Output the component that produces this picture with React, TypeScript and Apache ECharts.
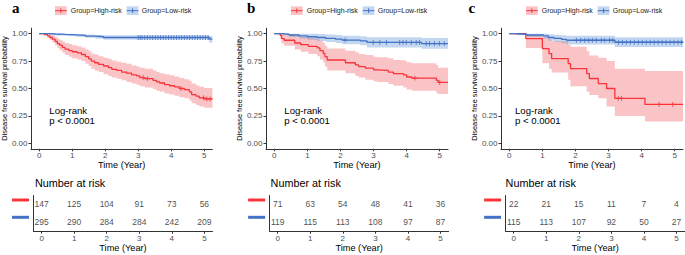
import React, { useEffect, useRef } from "react";
import * as echarts from "echarts";

const FONT = "'Liberation Sans', Arial, Helvetica, sans-serif";
const SERIF = "'Liberation Serif', 'Times New Roman', serif";
const RED = "#F8343A";
const BLUE = "#4472C4";
const RED_BAND = "rgba(240,70,80,0.32)";
const BLUE_BAND = "rgba(68,130,210,0.32)";

const panelLetters = ["a", "b", "c"];
const groupNames = ["Group=High-risk", "Group=Low-risk"];
const riskRows = ["High-risk", "Low-risk"];
const riskYears = [0, 1, 2, 3, 4, 5];
const xTicks = [0, 1, 2, 3, 4, 5];
const yTicks = [0, 0.25, 0.5, 0.75, 1];

// ---------- Panel a ----------
const aHighT = [0, 0.15, 0.25, 0.32, 0.4, 0.48, 0.55, 0.62, 0.7, 0.78, 0.9, 1.0, 1.15, 1.28, 1.4, 1.5, 1.58, 1.68, 1.8, 1.95, 2.1, 2.2, 2.35, 2.5, 2.65, 2.8, 2.95, 3.05, 3.2, 3.45, 3.55, 3.65, 3.8, 3.95, 4.1, 4.25, 4.4, 4.55, 4.62, 4.75, 4.85, 5.0, 5.25];
const aHighS = [1.0, 0.993, 0.98, 0.965, 0.95, 0.93, 0.91, 0.895, 0.875, 0.86, 0.845, 0.835, 0.825, 0.81, 0.79, 0.77, 0.75, 0.735, 0.72, 0.705, 0.69, 0.675, 0.665, 0.65, 0.64, 0.625, 0.615, 0.6, 0.59, 0.575, 0.56, 0.55, 0.535, 0.525, 0.515, 0.5, 0.49, 0.47, 0.445, 0.43, 0.415, 0.405, 0.405];
const aHighLo = [1.0, 0.98, 0.96, 0.94, 0.92, 0.895, 0.87, 0.85, 0.825, 0.805, 0.79, 0.775, 0.765, 0.75, 0.725, 0.705, 0.68, 0.665, 0.65, 0.63, 0.615, 0.6, 0.59, 0.575, 0.56, 0.545, 0.535, 0.52, 0.51, 0.495, 0.48, 0.47, 0.455, 0.445, 0.435, 0.42, 0.41, 0.39, 0.365, 0.35, 0.335, 0.325, 0.325];
const aHighHi = [1.0, 1.0, 1.0, 0.99, 0.985, 0.97, 0.955, 0.945, 0.93, 0.915, 0.905, 0.895, 0.885, 0.875, 0.855, 0.84, 0.82, 0.81, 0.795, 0.78, 0.77, 0.755, 0.745, 0.735, 0.725, 0.71, 0.7, 0.69, 0.68, 0.665, 0.65, 0.64, 0.63, 0.62, 0.61, 0.595, 0.585, 0.57, 0.545, 0.53, 0.515, 0.505, 0.505];
const aHighCensor = [3.15, 3.28, 4.3, 4.98, 5.08, 5.18];

const aLowT = [0, 0.3, 0.5, 0.8, 1.1, 1.4, 1.7, 1.95, 5.15, 5.25];
const aLowS = [1.0, 0.997, 0.993, 0.99, 0.985, 0.978, 0.972, 0.965, 0.95, 0.95];
const aLowLo = [1.0, 0.99, 0.983, 0.978, 0.971, 0.962, 0.954, 0.945, 0.92, 0.92];
const aLowHi = [1.0, 1.0, 1.0, 1.0, 0.998, 0.993, 0.989, 0.985, 0.978, 0.978];
const aLowCensor = [3.0, 3.06, 3.12, 3.2, 3.28, 3.36, 3.44, 3.52, 3.6, 3.68, 3.76, 3.84, 3.92, 4.0, 4.08, 4.16, 4.24, 4.32, 4.4, 4.48, 4.56, 4.64, 4.72, 4.8, 4.88, 4.96, 5.04, 5.12];

const aRiskHigh = [147, 125, 104, 91, 73, 56];
const aRiskLow = [295, 290, 284, 284, 242, 209];

// ---------- Panel b ----------
const bHighT = [0, 0.18, 0.22, 0.3, 0.62, 0.8, 1.03, 1.3, 1.38, 1.48, 1.53, 1.6, 2.15, 2.45, 2.55, 2.75, 3.0, 3.1, 3.45, 3.6, 3.9, 4.0, 4.15, 4.9, 4.95, 5.25];
const bHighS = [1.0, 0.985, 0.955, 0.94, 0.915, 0.9, 0.885, 0.87, 0.845, 0.82, 0.79, 0.76, 0.735, 0.715, 0.7, 0.685, 0.67, 0.665, 0.65, 0.635, 0.625, 0.605, 0.595, 0.575, 0.555, 0.555];
const bHighLo = [1.0, 0.957, 0.91, 0.89, 0.855, 0.835, 0.815, 0.795, 0.765, 0.735, 0.7, 0.665, 0.64, 0.615, 0.6, 0.58, 0.565, 0.56, 0.54, 0.525, 0.51, 0.49, 0.48, 0.46, 0.45, 0.45];
const bHighHi = [1.0, 1.0, 1.0, 0.995, 0.98, 0.97, 0.96, 0.95, 0.935, 0.915, 0.89, 0.865, 0.845, 0.83, 0.815, 0.805, 0.79, 0.785, 0.775, 0.76, 0.755, 0.74, 0.73, 0.715, 0.69, 0.69];
const bHighCensor = [4.25, 5.0];

const bLowT = [0, 0.25, 0.45, 0.75, 1.0, 1.3, 1.55, 1.85, 2.05, 2.6, 2.8, 4.45, 5.25];
const bLowS = [1.0, 0.995, 0.988, 0.98, 0.972, 0.965, 0.957, 0.95, 0.942, 0.935, 0.92, 0.91, 0.91];
const bLowLo = [1.0, 0.985, 0.97, 0.955, 0.944, 0.934, 0.923, 0.914, 0.904, 0.895, 0.875, 0.862, 0.862];
const bLowHi = [1.0, 1.0, 1.0, 1.0, 1.0, 0.997, 0.992, 0.987, 0.982, 0.977, 0.967, 0.96, 0.96];
const bLowCensor = [2.14, 2.99, 3.19, 3.39, 3.79, 3.89, 3.99, 4.14, 4.29, 4.39, 4.59, 4.69, 4.84, 4.99, 5.14];

const bRiskHigh = [71, 63, 54, 48, 41, 36];
const bRiskLow = [119, 115, 113, 108, 97, 87];

// ---------- Panel c ----------
const cHighT = [0, 0.5, 1.0, 1.2, 1.28, 1.78, 1.85, 2.34, 2.42, 2.69, 2.94, 3.19, 4.1, 5.25];
const cHighS = [1.0, 0.955, 0.864, 0.818, 0.773, 0.727, 0.682, 0.636, 0.591, 0.545, 0.5, 0.41, 0.355, 0.355];
const cHighLo = [1.0, 0.87, 0.73, 0.68, 0.645, 0.58, 0.52, 0.47, 0.44, 0.41, 0.335, 0.25, 0.2, 0.2];
const cHighHi = [1.0, 0.99, 0.97, 0.95, 0.93, 0.9, 0.88, 0.84, 0.8, 0.78, 0.75, 0.68, 0.66, 0.66];
const cHighCensor = [3.29, 3.39, 4.53, 4.94];

const cLowT = [0, 0.17, 0.53, 1.03, 1.18, 1.35, 1.58, 1.73, 3.19, 5.25];
const cLowS = [1.0, 0.995, 0.988, 0.98, 0.965, 0.958, 0.948, 0.94, 0.922, 0.922];
const cLowLo = [1.0, 0.985, 0.97, 0.955, 0.935, 0.925, 0.912, 0.902, 0.878, 0.878];
const cLowHi = [1.0, 1.0, 1.0, 1.0, 0.995, 0.99, 0.985, 0.98, 0.967, 0.967];
const cLowCensor = [2.03, 2.16, 2.28, 2.4, 2.51, 2.63, 2.78, 2.88, 3.03, 3.13, 3.3, 3.42, 3.54, 3.66, 3.78, 3.9, 4.02, 4.14, 4.26, 4.38, 4.5, 4.62, 4.74, 4.86, 4.98, 5.1, 5.2];

const cRiskHigh = [22, 21, 15, 11, 7, 4];
const cRiskLow = [115, 113, 107, 92, 50, 27];

type Curve = { t: number[]; s: number[]; lo: number[]; hi: number[]; cens: number[] };
type Panel = { high: Curve; low: Curve; riskHigh: number[]; riskLow: number[] };

const panels: Panel[] = [
  {
    high: { t: aHighT, s: aHighS, lo: aHighLo, hi: aHighHi, cens: aHighCensor },
    low: { t: aLowT, s: aLowS, lo: aLowLo, hi: aLowHi, cens: aLowCensor },
    riskHigh: aRiskHigh,
    riskLow: aRiskLow,
  },
  {
    high: { t: bHighT, s: bHighS, lo: bHighLo, hi: bHighHi, cens: bHighCensor },
    low: { t: bLowT, s: bLowS, lo: bLowLo, hi: bLowHi, cens: bLowCensor },
    riskHigh: bRiskHigh,
    riskLow: bRiskLow,
  },
  {
    high: { t: cHighT, s: cHighS, lo: cHighLo, hi: cHighHi, cens: cHighCensor },
    low: { t: cLowT, s: cLowS, lo: cLowLo, hi: cLowHi, cens: cLowCensor },
    riskHigh: cRiskHigh,
    riskLow: cRiskLow,
  },
];

// ---------- layout ----------
const X_MIN = -0.25;
const X_MAX = 5.25;
const kmLeft = [30.4, 266.0, 501.0];
const kmTop = 28.2;
const kmHeight = 120.6;
const kmWidth = 182;
const tabLeft = [33.5, 269.6, 505.6];
const tabTop = 195.5;
const tabHeight = 35.7;
const tabWidth = 179;
const legendOff = [0, 236, 471];
const titleX = [12, 247, 468.5];
const logX = [49.3, 284.3, 515];

const PLUS = "path://M5,0L5,10M0,5L10,5";

function stepAt(c: Curve, x: number): number {
  let v = c.s[0];
  for (let i = 0; i < c.t.length; i++) if (c.t[i] <= x) v = c.s[i];
  return v;
}

function bandSeries(c: Curve, gi: number, fill: string) {
  return {
    type: "custom", xAxisIndex: gi, yAxisIndex: gi, silent: true, z: 1,
    data: [[c.t[0], c.s[0]]],
    renderItem: (_params: any, api: any) => {
      const pts: number[][] = [];
      const n = c.t.length;
      for (let i = 0; i < n; i++) {
        pts.push(api.coord([c.t[i], c.hi[i]]));
        if (i < n - 1) pts.push(api.coord([c.t[i + 1], c.hi[i]]));
      }
      for (let i = n - 1; i >= 0; i--) {
        if (i < n - 1) pts.push(api.coord([c.t[i + 1], c.lo[i]]));
        pts.push(api.coord([c.t[i], c.lo[i]]));
      }
      return { type: "polygon", shape: { points: pts }, style: { fill } };
    },
  };
}

function buildOption() {
  const grid: any[] = [];
  const xAxis: any[] = [];
  const yAxis: any[] = [];
  const series: any[] = [];
  const graphic: any[] = [];

  const axisLine = { show: true, onZero: false, lineStyle: { color: "#333", width: 1 } };
  const tickLabel = { fontSize: 8, color: "#4D4D4D", fontFamily: FONT };
  const axisName = { fontSize: 9.2, color: "#000", fontFamily: FONT };

  panels.forEach((pn, p) => {
    const gKm = 2 * p;
    const gTab = 2 * p + 1;
    grid.push({ left: kmLeft[p], top: kmTop, width: kmWidth, height: kmHeight });
    grid.push({ left: tabLeft[p], top: tabTop, width: tabWidth, height: tabHeight });

    xAxis.push({
      type: "value", gridIndex: gKm, min: X_MIN, max: X_MAX,
      axisLine, splitLine: { show: false },
      axisTick: { show: true, length: 2.5, customValues: xTicks, lineStyle: { color: "#333" } },
      axisLabel: { ...tickLabel, customValues: xTicks, margin: 2.5 },
      name: "Time (Year)", nameLocation: "middle", nameGap: 10.9, nameTextStyle: axisName,
    });
    yAxis.push({
      type: "value", gridIndex: gKm, min: -0.05, max: 1.05,
      axisLine, splitLine: { show: false },
      axisTick: { show: true, length: 2.5, customValues: yTicks, lineStyle: { color: "#333" } },
      axisLabel: { ...tickLabel, customValues: yTicks, margin: 3.5, formatter: (v: number) => v.toFixed(2) },
      name: "Disease free survival probability", nameLocation: "middle", nameGap: 21.5, nameRotate: 90,
      nameTextStyle: { fontSize: 7.4, color: "#000", fontFamily: FONT },
    });
    xAxis.push({
      type: "value", gridIndex: gTab, min: X_MIN, max: X_MAX,
      axisLine, splitLine: { show: false },
      axisTick: { show: true, length: 2.5, customValues: xTicks, lineStyle: { color: "#333" } },
      axisLabel: { ...tickLabel, customValues: xTicks, margin: 3 },
      name: "Time (Year)", nameLocation: "middle", nameGap: 12.2, nameTextStyle: axisName,
    });
    yAxis.push({
      type: "category", gridIndex: gTab, data: riskRows, inverse: true,
      axisLine, axisTick: { show: false }, axisLabel: { show: false }, splitLine: { show: false },
    });

    const groups: [Curve, string, string][] = [
      [pn.high, RED, RED_BAND],
      [pn.low, BLUE, BLUE_BAND],
    ];
    groups.forEach(([c, , band]) => series.push(bandSeries(c, gKm, band)));
    groups.forEach(([c, col]) => {
      series.push({
        type: "line", xAxisIndex: gKm, yAxisIndex: gKm, step: "end",
        data: c.t.map((t, i) => [t, c.s[i]]), symbol: "none", showSymbol: false,
        lineStyle: { color: col, width: 1.3 }, silent: true, z: 3,
      });
    });
    groups.forEach(([c, col]) => {
      series.push({
        type: "scatter", xAxisIndex: gKm, yAxisIndex: gKm,
        data: c.cens.map((x) => [x, stepAt(c, x)]), symbol: PLUS, symbolSize: 5,
        itemStyle: { color: "rgba(0,0,0,0)", borderColor: col, borderWidth: 1 }, silent: true, z: 4,
      });
    });
    const riskData: any[] = [];
    riskYears.forEach((y, i) => riskData.push([y, 0, pn.riskHigh[i]]));
    riskYears.forEach((y, i) => riskData.push([y, 1, pn.riskLow[i]]));
    series.push({
      type: "scatter", xAxisIndex: gTab, yAxisIndex: gTab, data: riskData,
      symbolSize: 1, itemStyle: { color: "rgba(0,0,0,0)" }, silent: true,
      label: {
        show: true, position: "inside", formatter: (q: any) => String(q.value[2]),
        fontSize: 8.5, color: "#1a1a1a", fontFamily: FONT,
      },
    });

    const o = legendOff[p];
    graphic.push({
      type: "text", x: titleX[p], y: 7.6,
      style: { text: panelLetters[p], fontSize: 15, fontWeight: "bold", fontFamily: SERIF, fill: "#000", verticalAlign: "middle" },
    });
    const legendItems: [number, number, string, string, string][] = [
      [55, 70.7, RED, RED_BAND, groupNames[0]],
      [126.7, 141.7, BLUE, BLUE_BAND, groupNames[1]],
    ];
    legendItems.forEach(([bx, tx, col, band, label]) => {
      graphic.push({ type: "rect", shape: { x: bx + o, y: 6.3, width: 11.7, height: 8.7 }, style: { fill: band } });
      graphic.push({ type: "line", shape: { x1: bx + o, y1: 10.7, x2: bx + o + 11.7, y2: 10.7 }, style: { stroke: col, lineWidth: 1 } });
      graphic.push({ type: "line", shape: { x1: bx + o + 5.85, y1: 8.4, x2: bx + o + 5.85, y2: 13 }, style: { stroke: col, lineWidth: 1 } });
      graphic.push({
        type: "text", x: tx + o, y: 10.9,
        style: { text: label, fontSize: 7, fontFamily: FONT, fill: "#1a1a1a", verticalAlign: "middle" },
      });
    });
    graphic.push({
      type: "text", x: logX[p], y: 110,
      style: { text: "Log-rank", fontSize: 9.6, fontFamily: FONT, fill: "#000", verticalAlign: "middle" },
    });
    graphic.push({
      type: "text", x: logX[p], y: 120.7,
      style: { text: "p < 0.0001", fontSize: 9.6, fontFamily: FONT, fill: "#000", verticalAlign: "middle" },
    });
    graphic.push({
      type: "text", x: kmLeft[p] + 4.6, y: 183,
      style: { text: "Number at risk", fontSize: 10.8, fontFamily: FONT, fill: "#000", verticalAlign: "middle" },
    });
    graphic.push({ type: "rect", shape: { x: tabLeft[p] - 21.5, y: 198.5, width: 17, height: 3 }, style: { fill: RED } });
    graphic.push({ type: "rect", shape: { x: tabLeft[p] - 21.5, y: 215.8, width: 17, height: 3 }, style: { fill: BLUE } });
  });

  return {
    animation: false,
    backgroundColor: "#ffffff",
    textStyle: { fontFamily: FONT },
    grid, xAxis, yAxis, series, graphic,
  };
}

export default function App() {
  const ref = useRef<HTMLDivElement>(null);
  useEffect(() => {
    document.body.style.margin = "0";
    if (!ref.current) return;
    const chart = echarts.init(ref.current, undefined, { renderer: "svg" });
    chart.setOption(buildOption() as any);
    return () => chart.dispose();
  }, []);
  return <div ref={ref} style={{ width: 685, height: 255 }} />;
}
